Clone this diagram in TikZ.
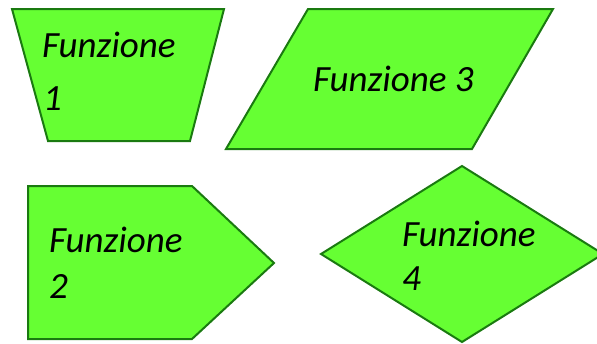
\documentclass[tikz,border=0pt]{standalone}
\usepackage{fontspec}
\setmainfont{Carlito}
\definecolor{shapefill}{HTML}{66FF33}
\definecolor{shapeline}{HTML}{1A7A10}
\begin{document}
\begin{tikzpicture}[x=1pt,y=-1pt,
  shp/.style={fill=shapefill,draw=shapeline,line width=2pt,line join=miter},
  lbl/.style={anchor=base west,inner sep=0pt,font=\fontsize{37}{42}\selectfont\itshape}]
\useasboundingbox (0,0) rectangle (597,343);
\clip (0,0) rectangle (597,343);
% trapezoid
\path[shp] (12,9) -- (224,9) -- (190,141) -- (48,141) -- cycle;
\node[lbl] (t1a) at (42,57) {Funzione};
\node[lbl] (t1b) at (43,110) {1};
% parallelogram
\path[shp] (308,9) -- (553,9) -- (472,149) -- (226,149) -- cycle;
\node[lbl] (t3) at (313,91) {Funzione 3};
% pentagon
\path[shp] (28,186) -- (192,186) -- (274,263) -- (192,339) -- (28,339) -- cycle;
\node[lbl] (t2a) at (49,252) {Funzione};
\node[lbl] (t2b) at (49,298) {2};
% diamond
\path[shp] (462,166) -- (603,254) -- (462,342) -- (321,254) -- cycle;
\node[lbl] (t4a) at (402,246) {Funzione};
\node[lbl] (t4b) at (402,290) {4};
\end{tikzpicture}
\end{document}
